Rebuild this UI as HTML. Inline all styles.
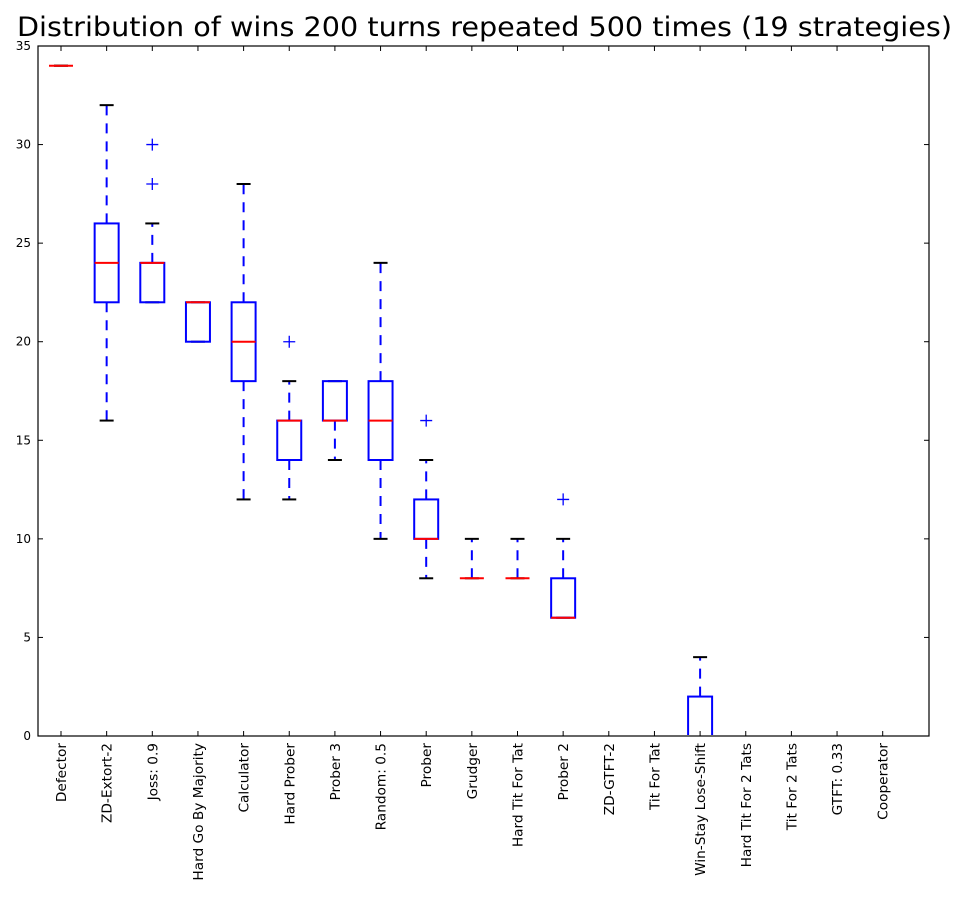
<!DOCTYPE html>
<html><head><meta charset="utf-8"><style>
body{margin:0;background:#fff;}
svg{display:block;font-family:"DejaVu Sans","Liberation Sans",sans-serif;}
</style></head><body>
<svg id="chart" width="964" height="899" viewBox="0 0 964 899" xmlns="http://www.w3.org/2000/svg">
<defs><clipPath id="clip"><rect x="38" y="40" width="891" height="695"/></clipPath></defs>
<text x="17" y="36" font-size="27" fill="#000" textLength="935" lengthAdjust="spacingAndGlyphs">Distribution of wins 200 turns repeated 500 times (19 strategies)</text>
<g id="axes"></g>
<g id="plot" clip-path="url(#clip)"></g>
<rect x="38" y="46" width="891" height="690" fill="none" stroke="#000" stroke-width="1.2"/>
</svg>
<script>
const categories=["Defector","ZD-Extort-2","Joss: 0.9","Hard Go By Majority","Calculator","Hard Prober","Prober 3","Random: 0.5","Prober","Grudger","Hard Tit For Tat","Prober 2","ZD-GTFT-2","Tit For Tat","Win-Stay Lose-Shift","Hard Tit For 2 Tats","Tit For 2 Tats","GTFT: 0.33","Cooperator"];
const q1=[34,22,22,20,18,14,16,14,10,8,8,6,0,0,0,0,0,0,0];
const medians=[34,24,24,22,20,16,16,16,10,8,8,6,0,0,0,0,0,0,0];
const q3=[34,26,24,22,22,16,18,18,12,8,8,8,0,0,2,0,0,0,0];
const whiskLo=[34,16,22,20,12,12,14,10,8,8,8,6,0,0,0,0,0,0,0];
const whiskHi=[34,32,26,22,28,18,18,24,14,10,10,10,0,0,4,0,0,0,0];
const fliers=[[],[],[28,30],[],[],[20],[],[],[16],[],[],[12],[],[],[],[],[],[],[]];
const yTicks=[0,5,10,15,20,25,30,35];
const L=38,R=929,T=46,B=736,YMAX=35;
const y=v=>B-(v/YMAX)*(B-T);
const x=i=>61+i*45.65;
const NS="http://www.w3.org/2000/svg";
const g=document.getElementById('plot');
const ax=document.getElementById('axes');
function mk(tag,attrs,parent){const e=document.createElementNS(NS,tag);for(const k in attrs)e.setAttribute(k,attrs[k]);(parent||g).appendChild(e);return e;}
yTicks.forEach(t=>{
  const l=mk('line',{x1:L,x2:L+5,y1:y(t),y2:y(t),stroke:'#000'},ax);
  
  
  const l2=mk('line',{x1:R-5,x2:R,y1:y(t),y2:y(t),stroke:'#000'},ax);
  
  
  const tx=mk('text',{x:L-7,y:y(t)+4,'text-anchor':'end','font-size':'12'},ax);
  tx.textContent=t;
  
  
});
categories.forEach((c,i)=>{
  const cx=x(i);
  const tk=mk('line',{x1:cx,x2:cx,y1:B,y2:B-5,stroke:'#000'},ax);
  
  
  const tt=mk('line',{x1:cx,x2:cx,y1:T,y2:T+5,stroke:'#000'},ax);
  
  
  const lb=mk('text',{x:0,y:0,'text-anchor':'end','font-size':'13.7',transform:`translate(${cx+5},${B+7}) rotate(-90)`},ax);
  lb.textContent=c;
  
  
  const w1=mk('line',{x1:cx,x2:cx,y1:y(q3[i]),y2:y(whiskHi[i]),stroke:'#00f','stroke-width':2,'stroke-dasharray':'10,8'});
  
  
  const w2=mk('line',{x1:cx,x2:cx,y1:y(q1[i]),y2:y(whiskLo[i]),stroke:'#00f','stroke-width':2,'stroke-dasharray':'10,8'});
  
  
  const c1=mk('line',{x1:cx-7,x2:cx+7,y1:y(whiskHi[i]),y2:y(whiskHi[i]),stroke:'#000','stroke-width':2});
  
  
  const c2=mk('line',{x1:cx-7,x2:cx+7,y1:y(whiskLo[i]),y2:y(whiskLo[i]),stroke:'#000','stroke-width':2});
  
  
  const bx=mk('rect',{x:cx-12,y:y(q3[i]),width:24,height:y(q1[i])-y(q3[i]),fill:'none',stroke:'#00f','stroke-width':2});
  
  
  const md=mk('line',{x1:cx-12,x2:cx+12,y1:y(medians[i]),y2:y(medians[i]),stroke:'#f00','stroke-width':2});
  
  
  fliers[i].forEach(f=>{
    const p=mk('path',{d:`M${cx-6},${y(f)}h12M${cx},${y(f)-6}v12`,stroke:'#00f','stroke-width':1.3,fill:'none'});
    
    
  });
});
</script>
</body></html>
